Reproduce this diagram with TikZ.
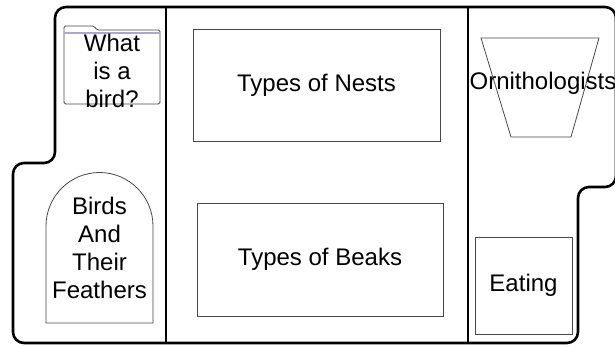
\documentclass[tikz,border=0pt]{standalone}
\usepackage{fontspec}
\setmainfont{Liberation Sans}
\begin{document}
\begin{tikzpicture}[x=1pt,y=-1pt,
  frame/.style={line width=2.6pt,black,line join=round},
  shapeline/.style={draw=black!72,line width=0.8pt},
  label/.style={font=\fontsize{24}{28}\selectfont,align=center,inner sep=0pt,text=black},
  tabline/.style={draw={rgb,255:red,176;green,164;blue,214},line width=1.6pt}]
\useasboundingbox (0,0) rectangle (615,347);

% outer outline of the three-panel organiser
\draw[frame,rounded corners=11pt]
  (166,7) -- (55,7) -- (55,163) -- (13,163) -- (13,343) -- (578,343)
  -- (578,187) -- (616,187) -- (616,7) -- (166,7);
% panel dividers
\draw[frame] (166,7) -- (166,343);
\draw[frame] (468,7) -- (468,343);

% folder
\draw[shapeline,rounded corners=1.5pt]
  (64,104) -- (64,26) -- (94,26) -- (97,30) -- (160,30) -- (160,104) -- cycle;
\draw[tabline] (64,33) -- (160,33);
\node[label] (bird) at (112,70.5) {What\\is a\\bird?};

% tombstone
\draw[shapeline] (46,323) -- (46,226)
  .. controls (46,196.5) and (70,172.5) .. (99.5,172.5)
  .. controls (129,172.5) and (153,196.5) .. (153,226)
  -- (153,323) -- cycle;
\node[label] (feathers) at (99.5,248) {Birds\\And\\Their\\Feathers};

% centre panel boxes
\node[shapeline,label,minimum width=247pt,minimum height=112pt] (nests) at (316.5,85) {Types of Nests};
\node[shapeline,label,minimum width=246pt,minimum height=113pt] (beaks) at (320,259.5) {Types of Beaks};

% trapezium
\draw[shapeline] (481,38) -- (599,38) -- (571,137) -- (511,137) -- cycle;
\node[label] (ornith) at (543,83) {Ornithologists};

% eating box
\node[shapeline,label,minimum width=97pt,minimum height=97pt] (eating) at (523.5,285.5) {Eating};
\end{tikzpicture}
\end{document}
